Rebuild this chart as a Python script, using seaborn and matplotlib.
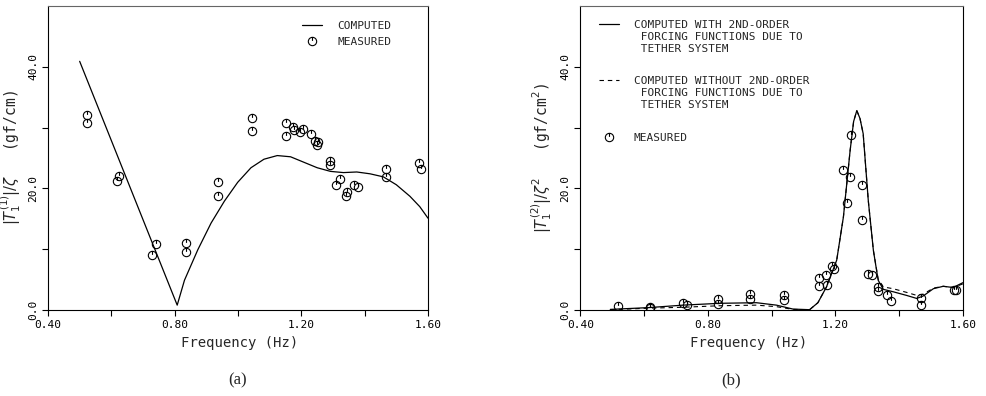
import numpy as np
import pandas as pd
import matplotlib
matplotlib.use("Agg")
import matplotlib.pyplot as plt
from matplotlib.path import Path
from matplotlib.lines import Line2D
import seaborn as sns

# ---------------- data ----------------
# panel (a): |T1(1)|/zeta
a_comp_f = [0.50, 0.808, 0.831, 0.873, 0.915, 0.957, 0.999, 1.041, 1.082, 1.124,
            1.166, 1.208, 1.25, 1.292, 1.333, 1.375, 1.417, 1.459, 1.50, 1.543,
            1.574, 1.60]
a_comp_v = [40.9, 0.8, 4.9, 9.9, 14.3, 17.9, 21.0, 23.4, 24.8, 25.4,
            25.2, 24.3, 23.4, 22.8, 22.6, 22.7, 22.4, 21.9, 20.6, 18.7,
            17.0, 15.1]
a_meas_f = [0.524, 0.524, 0.619, 0.625, 0.728, 0.741, 0.835, 0.835, 0.937, 0.937,
            1.045, 1.045, 1.153, 1.153, 1.174, 1.178, 1.195, 1.204, 1.229, 1.242,
            1.253, 1.251, 1.29, 1.29, 1.309, 1.321, 1.34, 1.344, 1.367, 1.38,
            1.467, 1.467, 1.57, 1.578]
a_meas_v = [32.0, 30.7, 21.2, 22.1, 9.0, 10.9, 11.1, 9.5, 21.0, 18.7,
            31.5, 29.5, 30.7, 28.7, 30.1, 29.6, 29.2, 29.7, 29.0, 27.8,
            27.6, 27.1, 24.5, 23.8, 20.6, 21.5, 18.7, 19.4, 20.6, 20.2,
            23.2, 21.9, 24.2, 23.2]

# panel (b): |T1(2)|/zeta^2
b_with_f = [0.494, 0.617, 0.722, 0.837, 0.952, 1.015, 1.067, 1.119, 1.145, 1.172,
            1.204, 1.225, 1.246, 1.257, 1.267, 1.277, 1.287, 1.303, 1.319, 1.334,
            1.35, 1.381, 1.423, 1.455, 1.475, 1.507, 1.538, 1.569, 1.60]
b_with_v = [0.1, 0.4, 0.8, 1.1, 1.2, 0.8, 0.15, 0.05, 1.2, 3.8,
            8.2, 15.3, 26.2, 31.0, 32.8, 31.5, 29.0, 18.0, 9.8, 4.9,
            3.4, 3.0, 2.4, 1.9, 2.3, 3.5, 3.9, 3.7, 4.5]
b_without_f = [0.494, 0.617, 0.722, 0.837, 0.952, 1.015, 1.067, 1.119, 1.145, 1.172,
               1.204, 1.225, 1.246, 1.257, 1.267, 1.277, 1.287, 1.303, 1.319, 1.334,
               1.35, 1.381, 1.423, 1.455, 1.475, 1.507, 1.538, 1.569, 1.60]
b_without_v = [0.05, 0.3, 0.45, 0.7, 0.8, 0.55, 0.1, 0.05, 1.2, 3.8,
               8.2, 15.3, 26.2, 31.0, 32.8, 31.5, 29.0, 18.0, 9.8, 5.1,
               3.8, 3.5, 2.9, 2.4, 2.6, 3.6, 3.9, 3.7, 4.3]
b_meas_f = [0.518, 0.617, 0.617, 0.722, 0.736, 0.832, 0.832, 0.933, 0.933, 1.039,
            1.039, 1.148, 1.148, 1.171, 1.173, 1.19, 1.194, 1.224, 1.236, 1.247,
            1.25, 1.284, 1.284, 1.302, 1.315, 1.333, 1.335, 1.363, 1.375, 1.469,
            1.469, 1.571, 1.579]
b_meas_v = [0.6, 0.5, 0.4, 1.1, 0.8, 1.75, 1.0, 2.6, 1.8, 2.4,
            1.6, 5.3, 4.0, 5.7, 4.1, 7.2, 6.8, 23.1, 17.6, 21.9,
            28.8, 20.6, 14.8, 5.9, 5.7, 3.8, 3.2, 2.5, 1.5, 2.0,
            0.9, 3.3, 3.3]

x_ticks = [0.40, 0.60, 0.80, 1.00, 1.20, 1.40, 1.60]
x_ticklabels = ["0.40", "", "0.80", "", "1.20", "", "1.60"]
y_ticks = [0, 10, 20, 30, 40]
y_ticklabels = ["0.0", "", "20.0", "", "40.0"]

# ---------------- style ----------------
sns.set_theme(style="ticks")
plt.rcParams["font.family"] = ["DejaVu Sans Mono", "DejaVu Sans"]
plt.rcParams["mathtext.fontset"] = "dejavusans"

MONO = "DejaVu Sans Mono"

# circle marker with a small tick inside (plotter style)
mk = Path.make_compound_path(
    Path.unit_circle(),
    Path([(0, 1.0), (0, 0.15)], [Path.MOVETO, Path.LINETO]),
)

fig = plt.figure(figsize=(9.86, 3.96), dpi=100)
ax_a = fig.add_axes([48 / 986, 86 / 396, 380 / 986, 304 / 396])
ax_b = fig.add_axes([580.3 / 986, 86 / 396, 382.7 / 986, 304 / 396])

marker_kws = dict(estimator=None, sort=False, linestyle="none", marker=mk,
                  markersize=6.0, markerfacecolor="none",
                  markeredgecolor="black", markeredgewidth=0.8, color="black")


def style_axes(ax):
    ax.set_xlim(0.40, 1.60)
    ax.set_ylim(0, 50)
    ax.set_xticks(x_ticks)
    ax.set_xticklabels(x_ticklabels, fontsize=8, family=MONO)
    ax.set_yticks(y_ticks)
    ax.set_yticklabels(y_ticklabels, fontsize=8, family=MONO,
                       rotation=90, va="center")
    ax.tick_params(direction="out", length=4, width=0.8, colors="black", pad=3)
    for s in ax.spines.values():
        s.set_visible(True)
        s.set_color("black")
        s.set_linewidth(0.8)
    ax.spines["top"].set_color("#666666")
    ax.grid(False)
    ax.set_facecolor("white")
    ax.set_xlabel("Frequency (Hz)", fontsize=10, family=MONO)


# ---------------- panel (a) ----------------
df_a = pd.DataFrame({"f": a_comp_f, "v": a_comp_v})
dm_a = pd.DataFrame({"f": a_meas_f, "v": a_meas_v})
sns.lineplot(data=df_a, x="f", y="v", ax=ax_a, estimator=None, sort=False,
             color="black", linewidth=0.9)
sns.lineplot(data=dm_a, x="f", y="v", ax=ax_a, **marker_kws)
style_axes(ax_a)
ax_a.set_ylabel(r"$|T_1^{(1)}|/\zeta$   (gf/cm)", fontsize=10.5)
ax_a.yaxis.set_label_coords(-(48 - 23) / 380, 0.5)
ax_a.xaxis.set_label_coords(0.505, -0.085)

h_line = Line2D([], [], color="black", linewidth=0.9)
h_mark = Line2D([], [], linestyle="none", marker=mk, markersize=6.0,
                markerfacecolor="none", markeredgecolor="black",
                markeredgewidth=0.8)
h_blank = Line2D([], [], linestyle="none")
h_dash = Line2D([], [], color="black", linewidth=0.8, linestyle=(0, (4, 3.5)))

leg_kw = dict(frameon=False, prop={"family": MONO, "size": 8},
              handlelength=1.8, handletextpad=1.35, borderpad=0,
              borderaxespad=0, loc="upper left")
ax_a.legend([h_line, h_mark], ["COMPUTED", "MEASURED"],
            bbox_to_anchor=((302 - 48) / 380, (310 - 21) / 304),
            labelspacing=0.5, **leg_kw)

# ---------------- panel (b) ----------------
df_bw = pd.DataFrame({"f": b_with_f, "v": b_with_v})
df_bo = pd.DataFrame({"f": b_without_f, "v": b_without_v})
dm_b = pd.DataFrame({"f": b_meas_f, "v": b_meas_v})
sns.lineplot(data=df_bw, x="f", y="v", ax=ax_b, estimator=None, sort=False,
             color="black", linewidth=0.9)
sns.lineplot(data=df_bo, x="f", y="v", ax=ax_b, estimator=None, sort=False,
             color="black", linewidth=0.8, linestyle=(0, (4, 3.5)))
sns.lineplot(data=dm_b, x="f", y="v", ax=ax_b, **marker_kws)
style_axes(ax_b)
ax_b.set_ylabel(r"$|T_1^{(2)}|/\zeta^2$   (gf/cm$^2$)", fontsize=10.5)
ax_b.yaxis.set_label_coords(-(580.3 - 554) / 382.7, 0.5)
ax_b.xaxis.set_label_coords(0.44, -0.085)

lx = (599 - 580.3) / 382.7
lg1 = ax_b.legend([h_line, h_blank, h_blank],
                  ["COMPUTED WITH 2ND-ORDER", " FORCING FUNCTIONS DUE TO",
                   " TETHER SYSTEM"],
                  bbox_to_anchor=(lx, (310 - 19.5) / 304),
                  labelspacing=0.18, **leg_kw)
ax_b.add_artist(lg1)
lg2 = ax_b.legend([h_dash, h_blank, h_blank],
                  ["COMPUTED WITHOUT 2ND-ORDER", " FORCING FUNCTIONS DUE TO",
                   " TETHER SYSTEM"],
                  bbox_to_anchor=(lx, (310 - 76.2) / 304),
                  labelspacing=0.18, **leg_kw)
ax_b.add_artist(lg2)
ax_b.legend([h_mark], ["MEASURED"],
            bbox_to_anchor=(lx, (310 - 132.8) / 304),
            labelspacing=0.18, **leg_kw)

# captions
fig.text(238 / 986, 1 - 380 / 396, "(a)", ha="center", va="center",
         family="Liberation Serif", fontsize=12)
fig.text(731 / 986, 1 - 380 / 396, "(b)", ha="center", va="center",
         family="Liberation Serif", fontsize=12)

fig.savefig("out.png", dpi=100, facecolor="white")
